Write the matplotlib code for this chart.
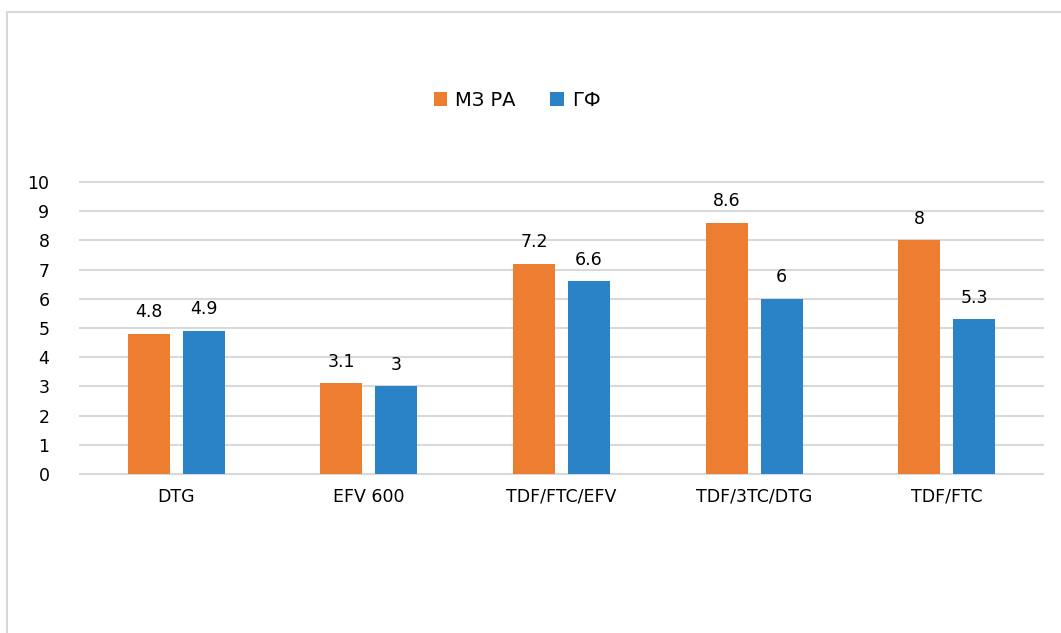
import matplotlib
matplotlib.use('Agg')
import matplotlib.pyplot as plt
from matplotlib.patches import Rectangle
import numpy as np

# данные
categories = ['DTG', 'EFV 600', 'TDF/FTC/EFV', 'TDF/3TC/DTG', 'TDF/FTC']
mz_ra = [4.8, 3.1, 7.2, 8.6, 8]
gf = [4.9, 3, 6.6, 6, 5.3]
series_names = ['МЗ РА', 'ГФ']

plt.rcParams['font.family'] = ['DejaVu Sans']

fig = plt.figure(figsize=(10.61, 6.33), dpi=100)
# рамка диаграммы
fig.patches.append(Rectangle((7 / 1061, -0.1), 1.2, 1 - 12 / 633 + 0.1,
                             transform=fig.transFigure, fill=False,
                             edgecolor='#D9D9D9', linewidth=1.5))

ax = fig.add_axes([80 / 1061, 1 - 474 / 633, (1043 - 80) / 1061, (474 - 182) / 633])
x = np.arange(len(categories))
w = 0.218
off = 0.143
b1 = ax.bar(x - off, mz_ra, w, color='#ED7D31', label=series_names[0], zorder=3)
b2 = ax.bar(x + off, gf, w, color='#2A83C6', label=series_names[1], zorder=3)

for bars, vals in ((b1, mz_ra), (b2, gf)):
    for b, v in zip(bars, vals):
        ax.annotate('%g' % v, (b.get_x() + b.get_width() / 2, v),
                    xytext=(0, 9), textcoords='offset points',
                    ha='center', va='bottom', fontsize=12.5, color='#000000')

ax.set_xlim(-0.5, len(categories) - 0.5)
ax.set_ylim(0, 10)
ax.set_yticks(range(0, 11))
ax.set_xticks(x)
ax.set_xticklabels(categories, fontsize=12.5)
ax.tick_params(axis='y', labelsize=12.5, length=0, pad=22)
ax.tick_params(axis='x', length=0, pad=10)
for gl in ax.get_ygridlines():
    gl.set_clip_on(False)
ax.grid(axis='y', color='#D9D9D9', linewidth=1.5, zorder=0)
for gl in ax.get_ygridlines():
    gl.set_clip_on(False)
for s in ax.spines.values():
    s.set_visible(False)

fig.legend(handles=[b1, b2], labels=series_names, loc='center',
           bbox_to_anchor=(517 / 1061, 1 - 100 / 633), ncol=2, frameon=False,
           fontsize=14, handlelength=0.7, handleheight=0.7, columnspacing=1.8,
           handletextpad=0.4)

plt.savefig('out.png', dpi=100)
